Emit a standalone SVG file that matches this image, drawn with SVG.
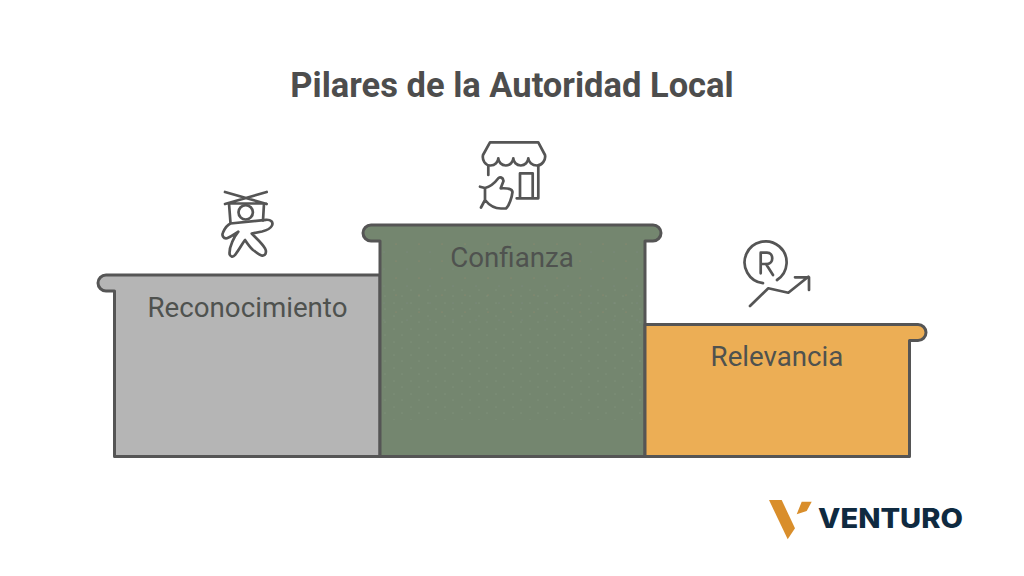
<svg xmlns="http://www.w3.org/2000/svg" width="1024" height="576" viewBox="0 0 1024 576">
<defs>
<pattern id="pale" width="17" height="13" patternUnits="userSpaceOnUse"><circle cx="3" cy="4" r="0.4" fill="#d5dcd2" fill-opacity="0.45"/><circle cx="11" cy="10" r="0.4" fill="#d5dcd2" fill-opacity="0.45"/></pattern>
<pattern id="warm" width="23" height="17" patternUnits="userSpaceOnUse"><circle cx="5" cy="6" r="0.6" fill="#b58a68" fill-opacity="0.5"/><circle cx="16" cy="14" r="0.6" fill="#8f93a8" fill-opacity="0.4"/></pattern>
</defs>
<style>
.shape{stroke:#555;stroke-width:3;stroke-linejoin:round}
.label{font-family:Roboto,"Liberation Sans",sans-serif;font-size:27.700px;fill:#4f524f;text-anchor:middle}
.title{font-family:Roboto,"Liberation Sans",sans-serif;font-size:34.500px;font-weight:700;fill:#4d4d4d;text-anchor:middle}
.icon{fill:none;stroke:#555;stroke-width:2.700;stroke-linecap:round;stroke-linejoin:round}
</style>
<rect width="1024" height="576" fill="#fff"/>
<text class="title" x="512" y="97">Pilares de la Autoridad Local</text>
<g id="node-reconocimiento">
<path class="shape" fill="#b5b5b5" d="M380 275H106a8 8 0 0 0 0 16H114.500V456.500H380Z"/>
<text class="label" x="247.500" y="317">Reconocimiento</text>
<g class="icon">
<path d="M225 192 266.700 204M266.700 192 225 204M227 203.500H266M229 203.500 230.500 223M264 203.500 263 220.500"/>
<circle cx="245.700" cy="212.300" r="7.200"/>
<path d="M230.500 223.500 266 219.800C271 219.500 273.500 222 272 225.500C270.500 228.500 266.500 230.500 262 231.500L251.700 233.500C256 238 262 243 265 248.300C267 252 265.500 256.500 261.500 255.500C258.500 254.500 256 252 253 250C250 247.500 247 243 245 240C242 244 239 250 235 255C233 257.500 229.500 257 229.500 253C229.500 246 234 237 238.300 231.700C234.500 234 231 237 227 238.300C223.500 239 221.500 235.500 223 232.500C224.500 229 227 225 230.500 223.500Z"/>
</g>
</g>
<g id="node-confianza">
<path class="shape" fill="#74866f" d="M380 456.500V241H371a8 8 0 0 1 0-16H653a8 8 0 0 1 0 16H645V456.500Z"/>
<rect x="383" y="285" width="259" height="135" fill="url(#pale)"/>
<rect x="383" y="242" width="259" height="80" fill="url(#warm)"/>
<text class="label" x="512" y="267">Confianza</text>
<g class="icon">
<path d="M490 142.300H538.300L545 155C546 160 542 165.500 537 165.500C532 165.500 528.300 162 528.300 158.300C528.300 162 525 165.500 520.800 165.500C516.500 165.500 513.300 162 513.300 158.300C513.300 162 510 165.500 505.800 165.500C501.500 165.500 498.300 162 498.300 158.300C498.300 162 495 165.500 490.500 165.500C485 165.500 482 160 483 155Z"/>
<path d="M488.300 166V175M538.300 166V198.300H516.700M520 198V173.300H532.700V198"/>
<path d="M480 186.700 485 188M481 207.500 485 200M485 188V200C489 205 495 208.500 501 208.500H506C509 206 512 197 512.500 192C512 188.500 508 188 500.700 188.300L503.500 181C503 177 500 177 498.500 178C494 184 489 187 485 188Z"/>
</g>
</g>
<g id="node-relevancia">
<path class="shape" fill="#ecae55" d="M645 324.500H918a8 8 0 0 1 0 16H909.500V456.500H645Z"/>
<text class="label" x="777" y="366">Relevancia</text>
<g class="icon">
<path d="M763 283.200A21 21 0 1 1 777 280"/>
<path d="M760.700 273.300V252.700H767C774 252.700 774 264 767 264H760.700M766 264 773 275"/>
<path d="M750 306 768.300 288.300 788.300 292.700 808.300 276.700M795 277.300H809V290"/>
</g>
</g>
<g id="logo">
<path fill="#d98e2b" d="M769 500H781.700L795 528.300 787.700 539.300Z"/>
<path fill="#d98e2b" d="M801.700 501.700H811.700L806.700 511 796.700 514.300Z"/>
<text x="818" y="528" font-family="Inter,'Open Sans',sans-serif" font-size="27" font-weight="800" fill="#0f2a40" textLength="145" lengthAdjust="spacingAndGlyphs">VENTURO</text>
</g>
<g id="connectors"></g>
</svg>
